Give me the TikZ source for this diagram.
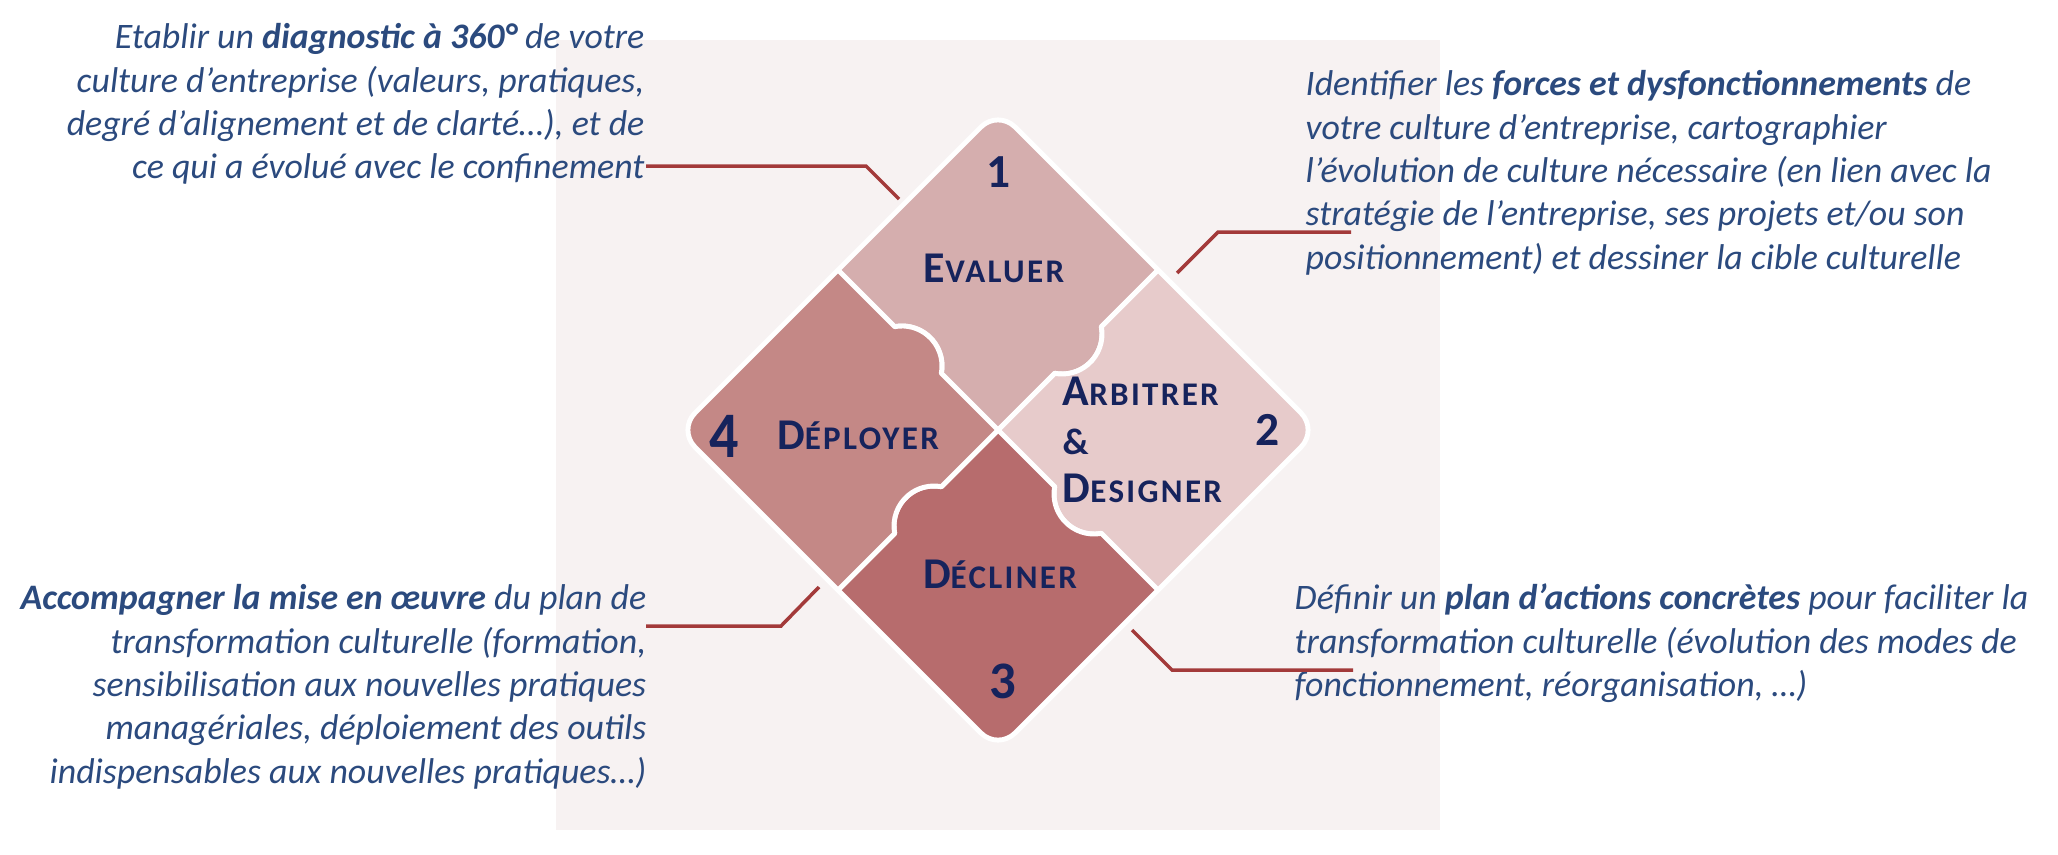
\documentclass[tikz,border=0pt]{standalone}
\usepackage{fontspec}
\setmainfont{Carlito}
\usepackage{graphicx}
\usepackage{xcolor}

\definecolor{bgpink}{HTML}{F7F2F2}
\definecolor{evalcol}{HTML}{D5AEAE}
\definecolor{arbcol}{HTML}{E7CBCB}
\definecolor{declcol}{HTML}{B76C6D}
\definecolor{deplcol}{HTML}{C48886}
\definecolor{phasenavy}{HTML}{16235C}
\definecolor{notecol}{HTML}{2B4A7E}
\definecolor{leadred}{HTML}{A33A3A}

% big first letter + smaller capitals, slightly tracked
\newcommand{\phasename}[2]{{\addfontfeatures{LetterSpace=7}%
  \fontsize{12.5}{13.8}\selectfont #1\fontsize{9.4}{13.8}\selectfont #2}}

\begin{document}
\begin{tikzpicture}[
    note/.style={inner sep=0pt, text=notecol,
      font=\fontsize{10.2}{12.35}\selectfont\itshape},
    phase/.style={inner sep=0pt, text=phasenavy,
      font=\fontsize{12.5}{13.8}\selectfont\bfseries},
    num/.style={inner sep=0pt, text=phasenavy,
      font=\fontsize{13.5}{16}\selectfont\bfseries},
    lead/.style={draw=leadred, line width=1pt},
    piece/.style={draw=white, line width=1.4pt, line join=round}
  ]
  \useasboundingbox (0,0) rectangle (20.58,-8.54);
  \fill[bgpink] (5.56,-0.40) rectangle (14.40,-8.30);

  % the four puzzle pieces
  \begin{scope}[shift={(9.98,-4.30)}, rotate=45]
    \foreach \ang/\col in {0/evalcol, -90/arbcol, -180/declcol, -270/deplcol}
      \path[piece, fill=\col, rotate=\ang]
        (0,0) -- (0.8015,0) arc[start angle=214.4, end angle=325.6, radius=0.4]
        -- (2.263,0) -- (2.263,2.023) arc[start angle=0, end angle=90, radius=0.24]
        -- (0,2.263) -- (0,1.4615) arc[start angle=55.6, end angle=-55.6, radius=0.4]
        -- cycle;
  \end{scope}

  \node[num] (n1) at (9.99,-1.72) {1};
  \node[num] (n2) at (12.68,-4.30) {2};
  \node[num, font=\fontsize{15}{18}\selectfont\bfseries] (n3) at (10.03,-6.81) {3};
  \node[num, font=\fontsize{16.5}{18}\selectfont\bfseries] (n4) at (7.24,-4.36)
    {\scalebox{1}[1.12]{4}};

  \node[phase, anchor=base] (l1) at (9.94,-2.82) {\phasename{E}{VALUER}};
  \node[phase, anchor=west, align=left] (l2) at (10.62,-4.40)
    {\phasename{A}{RBITRER}\\{\fontsize{10.5}{13.8}\selectfont\&}\\\phasename{D}{ESIGNER}};
  \node[phase, anchor=base] (l3) at (10.00,-5.88) {\phasename{D}{ÉCLINER}};
  \node[phase, anchor=base] (l4) at (8.58,-4.49) {\phasename{D}{ÉPLOYER}};

  \node[note, align=right, anchor=north east] (t1) at (6.45,-0.175)
    {\strut Etablir un \textbf{diagnostic à 360°} de votre\\
     culture d’entreprise (valeurs, pratiques,\\
     degré d’alignement et de clarté…), et de\\
     ce qui a évolué avec le confinement};
  \node[note, align=left, anchor=north west] (t2) at (13.05,-0.645)
    {\strut Identifier les \textbf{forces et dysfonctionnements} de\\
     votre culture d’entreprise, cartographier\\
     l’évolution de culture nécessaire (en lien avec la\\
     stratégie de l’entreprise, ses projets et/ou son\\
     positionnement) et dessiner la cible culturelle};
  \node[note, align=left, anchor=north west] (t3) at (12.94,-5.785)
    {\strut Définir un \textbf{plan d’actions concrètes} pour faciliter la\\
     transformation culturelle (évolution des modes de\\
     fonctionnement, réorganisation, …)};
  \node[note, align=right, anchor=north east] (t4) at (6.47,-5.785)
    {\strut\textbf{Accompagner la mise en œuvre} du plan de\\
     transformation culturelle (formation,\\
     sensibilisation aux nouvelles pratiques\\
     managériales, déploiement des outils\\
     indispensables aux nouvelles pratiques…)};

  % leader lines
  \coordinate (s1) at (6.46,-1.66);
  \coordinate (k1) at (8.99,-1.99);
  \coordinate (k2) at (11.77,-2.73);
  \coordinate (s2) at (13.51,-2.32);
  \coordinate (k3) at (11.32,-6.30);
  \coordinate (s3) at (13.53,-6.70);
  \coordinate (s4) at (6.46,-6.26);
  \coordinate (k4) at (8.19,-5.87);

  \draw[lead] (s1) -- ++(2.20,0) -- (k1);
  \draw[lead] (k2) -- ++(0.41,0.41) -- (s2);
  \draw[lead] (k3) -- ++(0.40,-0.40) -- (s3);
  \draw[lead] (s4) -- ++(1.35,0) -- (k4);
\end{tikzpicture}
\end{document}
